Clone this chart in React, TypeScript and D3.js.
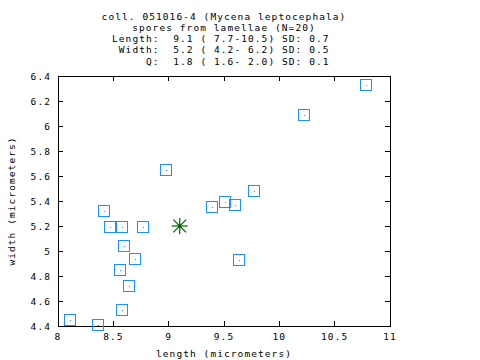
import * as d3 from "d3";

// spore measurements (micrometers)
const lengths = [8.11, 8.36, 8.58, 8.64, 8.56, 8.7, 8.6, 8.47, 8.58, 8.77, 8.42, 8.98, 9.39, 9.51, 9.6, 9.77, 9.64, 10.22, 10.78];
const widths = [4.45, 4.41, 4.53, 4.72, 4.85, 4.94, 5.04, 5.19, 5.19, 5.19, 5.32, 5.65, 5.35, 5.39, 5.37, 5.48, 4.93, 6.09, 6.33];
const meanPoint = [9.1, 5.2];

const xTicks = [8, 8.5, 9, 9.5, 10, 10.5, 11];
const yTicks = [4.4, 4.6, 4.8, 5, 5.2, 5.4, 5.6, 5.8, 6, 6.2, 6.4];

const titleLines = [
  "coll. 051016-4 (Mycena leptocephala)",
  "spores from lamellae (N=20)",
];
const statLines = [
  "Length:  9.1 ( 7.7-10.5) SD: 0.7",
  " Width:  5.2 ( 4.2- 6.2) SD: 0.5",
  "     Q:  1.8 ( 1.6- 2.0) SD: 0.1",
];

const W = 480;
const H = 360;
const margin = { top: 76, right: 90, bottom: 34, left: 58 };
const font = "'DejaVu Sans Mono', monospace";
const fs = 9.5;
const ls = 1.08;

export default function App() {
  const x = d3.scaleLinear().domain([8, 11]).range([margin.left, W - margin.right]);
  const y = d3.scaleLinear().domain([4.4, 6.4]).range([H - margin.bottom, margin.top]);
  const [x0, x1] = x.range();
  const [y0, y1] = y.range();
  const tk = 5;
  const blue = "#1e8fff";
  const green = "#006400";
  const cx = x(meanPoint[0]);
  const cy = y(meanPoint[1]);
  const r = 8;

  return (
    <svg
      width={W}
      height={H}
      style={{ position: "absolute", left: 0, top: 0, background: "#fff" }}
      fontFamily={font}
      fontSize={fs}
      letterSpacing={ls}
    >
      {titleLines.map((t, i) => (
        <text key={t} x={224} y={19.5 + i * 11.3} textAnchor="middle" xmlSpace="preserve">
          {t}
        </text>
      ))}
      {statLines.map((t, i) => (
        <text key={t} x={112} y={42.1 + i * 11.3} xmlSpace="preserve" style={{ whiteSpace: "pre" }}>
          {t}
        </text>
      ))}

      {/* frame */}
      <rect x={x0} y={y1} width={x1 - x0} height={y0 - y1} fill="none" stroke="#000" strokeWidth={1} shapeRendering="crispEdges" />

      {/* ticks */}
      {xTicks.map((t) => (
        <g key={"x" + t} shapeRendering="crispEdges">
          <line x1={x(t)} x2={x(t)} y1={y0} y2={y0 - tk} stroke="#000" />
          <line x1={x(t)} x2={x(t)} y1={y1} y2={y1 + tk} stroke="#000" />
          <text x={x(t)} y={340} textAnchor="middle">
            {String(t)}
          </text>
        </g>
      ))}
      {yTicks.map((t) => (
        <g key={"y" + t} shapeRendering="crispEdges">
          <line x1={x0} x2={x0 + tk} y1={y(t)} y2={y(t)} stroke="#000" />
          <line x1={x1} x2={x1 - tk} y1={y(t)} y2={y(t)} stroke="#000" />
          <text x={51} y={y(t) + 3.5} textAnchor="end">
            {String(t)}
          </text>
        </g>
      ))}

      <text x={224} y={357} textAnchor="middle">
        length (micrometers)
      </text>
      <text transform={`translate(15,${(y0 + y1) / 2}) rotate(-90)`} textAnchor="middle">
        width (micrometers)
      </text>

      {/* spores */}
      {lengths.map((l, i) => {
        const px = Math.round(x(l));
        const py = Math.round(y(widths[i]));
        return (
          <g key={i} shapeRendering="crispEdges">
            <rect x={px - 5.5} y={py - 5.5} width={11} height={11} fill="none" stroke={blue} strokeWidth={1.4} />
            <rect x={px} y={py} width={1} height={1} fill={blue} />
          </g>
        );
      })}

      {/* mean */}
      <g stroke={green} strokeWidth={1.2}>
        <line x1={cx - r} x2={cx + r} y1={cy} y2={cy} />
        <line x1={cx} x2={cx} y1={cy - r} y2={cy + r} />
        <line x1={cx - r * 0.8} x2={cx + r * 0.8} y1={cy - r * 0.8} y2={cy + r * 0.8} />
        <line x1={cx - r * 0.8} x2={cx + r * 0.8} y1={cy + r * 0.8} y2={cy - r * 0.8} />
      </g>
      <circle cx={cx} cy={cy} r={1.8} fill={green} />
    </svg>
  );
}
